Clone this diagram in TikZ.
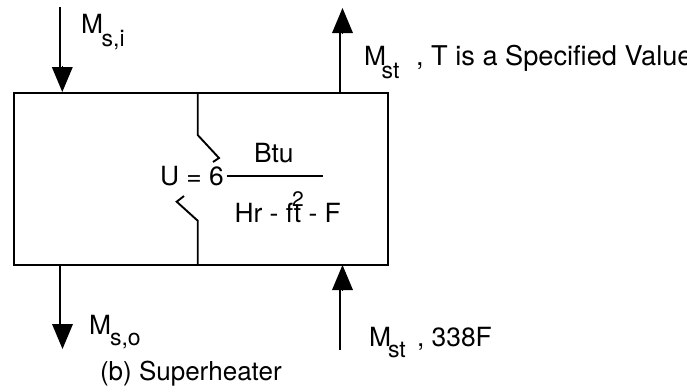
\documentclass[tikz,border=0pt]{standalone}
\usepackage{fontspec}
\setmainfont{TeX Gyre Heros}
\usetikzlibrary{arrows.meta}
\tikzset{
  wire/.style={line width=1.9pt,black},
  stem/.style={line width=1.9pt,black},
  headtip/.style={line width=0pt,-{Triangle[width=21pt,length=25pt]}},
  txt/.style={anchor=base west,inner sep=0pt,outer sep=0pt,font=\fontsize{26.4}{30}\selectfont},
  subtxt/.style={anchor=base west,inner sep=0pt,outer sep=0pt,font=\fontsize{23}{26}\selectfont},
  suptxt/.style={anchor=base west,inner sep=0pt,outer sep=0pt,font=\fontsize{21}{24}\selectfont},
}
\begin{document}
\begin{tikzpicture}[x=1pt,y=-1pt]
\useasboundingbox (0,0) rectangle (687,391);
\clip (0,0) rectangle (687,391);
% vessel
\coordinate (tl) at (14,93);
\coordinate (br) at (388,265);
\draw[wire,line join=miter] (tl) rectangle (br);
% baffle
\coordinate (b1) at (197.7,93);
\coordinate (b2) at (197.7,135);
\coordinate (b3) at (219,158);
\coordinate (b4) at (213,162);
\coordinate (c1) at (197.7,265);
\coordinate (c2) at (197.7,220.7);
\coordinate (c3) at (176.7,201.7);
\coordinate (c4) at (184,196);
\draw[wire] (b1) -- (b2) -- (b3) -- (b4);
\draw[wire] (c1) -- (c2) -- (c3) -- (c4);
% fraction bar
\coordinate (f1) at (227,176);
\coordinate (f2) at (323,176);
\draw[wire] (f1) -- (f2);
% arrow: steam in, top left
\coordinate (a1) at (60,7);
\coordinate (a2) at (60,70);
\coordinate (a3) at (62.3,66);
\coordinate (a4) at (62.3,92);
\draw[stem] (a1) -- (a2);
\draw[headtip] (a3) -- (a4);
% arrow: steam out, top right
\coordinate (d1) at (340,93);
\coordinate (d2) at (340,28);
\coordinate (d3) at (342.5,33);
\coordinate (d4) at (342.5,8);
\draw[stem] (d1) -- (d2);
\draw[headtip] (d3) -- (d4);
% arrow: bottom left
\coordinate (e1) at (60,265);
\coordinate (e2) at (60,329);
\coordinate (e3) at (62.5,325);
\coordinate (e4) at (62.5,349);
\draw[stem] (e1) -- (e2);
\draw[headtip] (e3) -- (e4);
% arrow: bottom right
\coordinate (g1) at (340,350);
\coordinate (g2) at (340,282);
\coordinate (g3) at (342.5,287);
\coordinate (g4) at (342.5,265);
\draw[stem] (g1) -- (g2);
\draw[headtip] (g3) -- (g4);
% labels
\node[txt] (msi) at (81,33) {M};
\node[subtxt] (msis) at (101.7,46.5) {s,i};
\node[txt] (mst1) at (364,65) {M};
\node[subtxt] (mst1s) at (381.7,78) {st};
\node[txt,font=\fontsize{27.2}{30}\selectfont] (spec) at (416,65) {, T is a Specified Value};
\node[txt] (mso) at (89,334) {M};
\node[subtxt] (msos) at (110,345.7) {s,o};
\node[txt] (mst2) at (369,346) {M};
\node[subtxt] (mst2s) at (388,357.7) {st};
\node[txt] (t338) at (417,346) {, 338F};
\node[txt,font=\fontsize{26}{30}\selectfont] (cap) at (100,380) {(b) Superheater};
\node[txt] (u) at (160,185.7) {U = 6};
\node[txt] (btu) at (254,162.7) {Btu};
\node[txt] (hr) at (234.5,222.7) {Hr - ft - F};
\node[suptxt] (sq) at (292,206) {2};
\end{tikzpicture}
\end{document}
